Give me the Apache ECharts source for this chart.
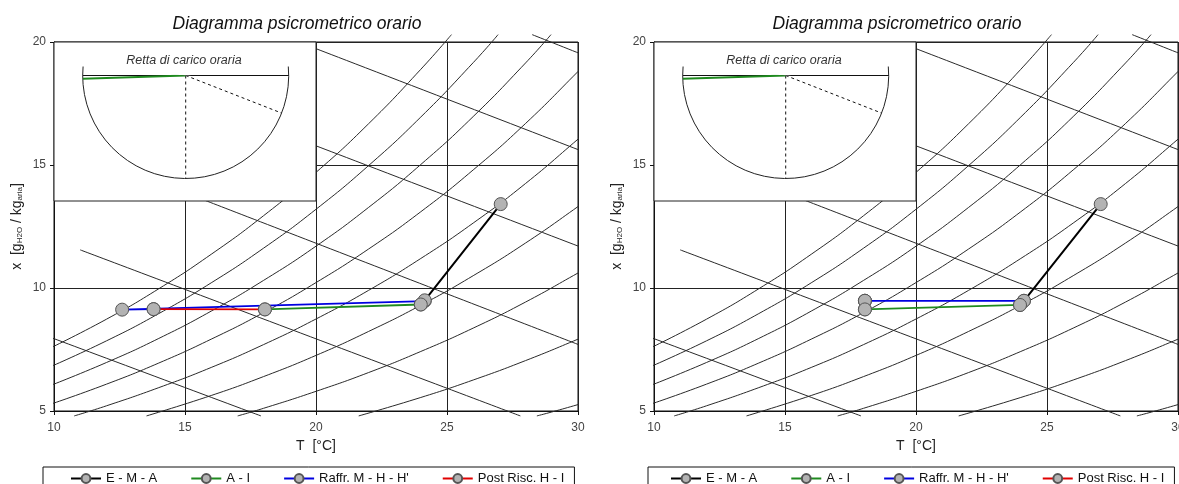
<!DOCTYPE html>
<html>
<head>
<meta charset="utf-8">
<title>Diagramma psicrometrico orario</title>
<script src="https://cdn.jsdelivr.net/npm/echarts@6/dist/echarts.min.js"></script>
<style>
  html, body { margin: 0; padding: 0; background: #fff; }
  #chart { width: 1179px; height: 484px; }
</style>
</head>
<body>
<div id="chart"></div>
<script>
const rh100 = [[9.8, 7.53], [12, 8.73], [14, 9.97], [16, 11.37], [18, 12.94], [20, 14.70], [22, 16.67], [24, 18.89], [25.17, 20.3]];
const rh90 = [[9.8, 6.77], [12, 7.85], [14, 8.96], [16, 10.21], [18, 11.62], [20, 13.20], [22, 14.97], [24, 16.95], [26, 19.16], [26.95, 20.3]];
const rh80 = [[9.8, 6.01], [12, 6.97], [14, 7.95], [16, 9.06], [18, 10.31], [20, 11.70], [22, 13.27], [24, 15.02], [26, 16.97], [28, 19.15], [28.97, 20.3]];
const rh70 = [[9.8, 5.25], [12, 6.09], [14, 6.95], [16, 7.92], [18, 9.00], [20, 10.22], [22, 11.58], [24, 13.10], [26, 14.80], [28, 16.69], [30, 18.80], [30.26, 19.10]];
const rh60 = [[10.77, 4.8], [12, 5.21], [14, 5.95], [16, 6.77], [18, 7.70], [20, 8.74], [22, 9.90], [24, 11.20], [26, 12.64], [28, 14.25], [30, 16.05], [30.26, 16.30]];
const rh50 = [[13.53, 4.8], [16, 5.63], [18, 6.40], [20, 7.26], [22, 8.23], [24, 9.30], [26, 10.50], [28, 11.83], [30, 13.31], [30.26, 13.53]];
const rh40 = [[17.01, 4.8], [18, 5.11], [20, 5.80], [22, 6.56], [24, 7.42], [26, 8.37], [28, 9.43], [30, 10.61], [30.26, 10.77]];
const rh30 = [[21.63, 4.8], [24, 5.55], [26, 6.26], [28, 7.05], [30, 7.92], [30.26, 8.05]];
const rh20 = [[28.43, 4.8], [29, 4.96], [30, 5.26], [30.26, 5.34]];

// isoentalpiche (30 ... 80 kJ/kg)
const h30 = [[9.8, 8.02], [17.9, 4.8]];
const h40 = [[11.0, 11.55], [27.8, 4.8]];
const h50 = [[15.6, 13.63], [30.26, 7.6]];
const h60 = [[19.9, 15.82], [30.26, 11.6]];
const h70 = [[19.9, 19.77], [30.26, 15.52]];
const h80 = [[28.25, 20.3], [30.26, 19.45]];

// trasformazioni - diagramma di sinistra
const leftEMA = [[27.05, 13.41], [24.15, 9.50], [24.0, 9.33]];
const leftAI = [[24.0, 9.33], [18.05, 9.13]];
const leftRaffr = [[24.15, 9.47], [12.6, 9.12], [13.8, 9.14]];
const leftPost = [[13.8, 9.14], [18.05, 9.13]];

// trasformazioni - diagramma di destra
const rightEMA = [[27.05, 13.41], [24.12, 9.48], [23.97, 9.31]];
const rightAI = [[23.97, 9.31], [18.05, 9.13]];
const rightRaffr = [[24.12, 9.48], [18.05, 9.48], [18.05, 9.48]];
const rightPost = [[18.05, 9.48], [18.05, 9.13]];

const seriesNames = ['E - M - A', 'A - I', "Raffr. M - H - H'", 'Post Risc. H - I'];
const seriesColors = ['#000000', '#1f8a1f', '#0000e0', '#e00000'];

// retta di carico: [raggio, angolo in gradi orari da destra]
const insetBase = [[1.1, 0], [1.1, 180]];
const insetVertical = [[0, 90], [1, 90]];
const insetSlope = [[0, 21.4], [1.08, 21.4]];
const insetLoad = [[1, 178.2], [0, 178.2]];

const font = 'Liberation Sans, Arial, sans-serif';
const chart = echarts.init(document.getElementById('chart'));

const rhCurves = [rh100, rh90, rh80, rh70, rh60, rh50, rh40, rh30, rh20];
const hLines = [h30, h40, h50, h60, h70, h80];
const gridLeft = [54, 654];

var series = [];
var grid = [], xAxis = [], yAxis = [], polar = [], angleAxis = [], radiusAxis = [];
var title = [], legend = [];

// griglie principali: indici 0 e 1
[0, 1].forEach(function (gi) {
  grid.push({
    left: gridLeft[gi], top: 42, width: 524, height: 369, outerBoundsMode: 'none',
    show: true, borderColor: '#111', borderWidth: 1
  });
  xAxis.push({
    type: 'value', gridIndex: gi, min: 10, max: 30, interval: 5,
    name: 'T  [°C]', nameLocation: 'middle', nameGap: 28,
    nameTextStyle: { fontSize: 14, color: '#222', fontFamily: font },
    axisLine: { lineStyle: { color: '#111', width: 1 } },
    axisTick: { length: 4, lineStyle: { color: '#111' } },
    axisLabel: { fontSize: 12, color: '#444', margin: 11, fontFamily: font },
    splitLine: { show: true, lineStyle: { color: '#222', width: 1 } }
  });
  yAxis.push({
    type: 'value', gridIndex: gi, min: 5, max: 20, interval: 5,
    name: 'x  [g{s|H2O} / kg{s|aria}]', nameLocation: 'middle', nameGap: 30,
    nameTextStyle: {
      fontSize: 14, color: '#222', fontFamily: font,
      rich: { s: { fontSize: 8, color: '#222', fontFamily: font, verticalAlign: 'bottom' } }
    },
    axisLine: { lineStyle: { color: '#111', width: 1 } },
    axisTick: { length: 4, lineStyle: { color: '#111' } },
    axisLabel: { fontSize: 12, color: '#444', margin: 8, fontFamily: font },
    splitLine: { show: true, lineStyle: { color: '#222', width: 1 } }
  });
});

// riquadri retta di carico: griglie 2 e 3 (solo sfondo bianco)
[0, 1].forEach(function (gi) {
  grid.push({
    left: gridLeft[gi], top: 42, width: 262, height: 159, outerBoundsMode: 'none',
    show: true, backgroundColor: '#fff', borderColor: '#222', borderWidth: 1, z: 5
  });
  xAxis.push({ type: 'value', gridIndex: gi + 2, min: 0, max: 1, show: false });
  yAxis.push({ type: 'value', gridIndex: gi + 2, min: 0, max: 1, show: false });
});

[0, 1].forEach(function (gi) {
  var off = gi * 600;

  // curve di fondo
  rhCurves.concat(hLines).forEach(function (pts) {
    series.push({
      type: 'line', xAxisIndex: gi, yAxisIndex: gi, data: pts,
      smooth: true, symbol: 'none', clip: false, silent: true,
      lineStyle: { color: '#2a2a2a', width: 1 }, z: 2
    });
  });

  // trasformazioni (nero per ultimo, sopra gli altri)
  var sets = gi === 0 ? [leftEMA, leftAI, leftRaffr, leftPost] : [rightEMA, rightAI, rightRaffr, rightPost];
  [1, 2, 3, 0].forEach(function (k) {
    series.push({
      name: seriesNames[k], type: 'line', xAxisIndex: gi, yAxisIndex: gi, data: sets[k],
      symbol: 'circle', symbolSize: 13, showAllSymbol: true, clip: false,
      lineStyle: { color: seriesColors[k], width: k === 0 ? 2 : 1.8 },
      itemStyle: { color: '#b3b3b3', borderColor: '#555', borderWidth: 1 },
      z: 3
    });
  });

  polar.push({ center: [185.7 + off, 75.5], radius: 103 });
  angleAxis.push({
    polarIndex: gi, type: 'value', min: -5, max: 185, startAngle: 5, endAngle: -185, clockwise: true,
    axisLine: { lineStyle: { color: '#222', width: 1 } },
    axisTick: { show: false }, axisLabel: { show: false }, splitLine: { show: false }, z: 10
  });
  radiusAxis.push({ polarIndex: gi, type: 'value', min: 0, max: 1, show: false });

  [[insetBase, '#111', 1, 'solid'], [insetVertical, '#111', 1, [3, 3]], [insetSlope, '#111', 1, [3, 3]], [insetLoad, '#1f8a1f', 2, 'solid']].forEach(function (s) {
    series.push({
      type: 'line', coordinateSystem: 'polar', polarIndex: gi, data: s[0],
      symbol: 'none', clip: false, silent: true,
      lineStyle: { color: s[1], width: s[2], type: s[3] }, z: 10
    });
  });

  title.push({
    text: 'Diagramma psicrometrico orario', left: 297 + off, top: 15, textAlign: 'center', padding: 0,
    textStyle: { fontSize: 17.5, fontStyle: 'italic', fontWeight: 'normal', color: '#111', fontFamily: font }
  });
  title.push({
    text: 'Retta di carico oraria', left: 184 + off, top: 54, textAlign: 'center', padding: 0, z: 12,
    textStyle: { fontSize: 12.5, fontStyle: 'italic', fontWeight: 'normal', color: '#333', fontFamily: font }
  });

  legend.push({
    data: seriesNames, left: gi === 0 ? 43 : 648, top: 467, padding: [5, 10, 10, gi === 0 ? 27 : 22],
    itemGap: 33, itemWidth: 30, itemHeight: 11, borderColor: '#111', borderWidth: 1,
    selectedMode: false, textStyle: { fontSize: 13, color: '#111', fontFamily: font }
  });
});

chart.setOption({
  animation: false,
  backgroundColor: '#fff',
  title: title,
  legend: legend,
  grid: grid,
  xAxis: xAxis,
  yAxis: yAxis,
  polar: polar,
  angleAxis: angleAxis,
  radiusAxis: radiusAxis,
  series: series
});
</script>
</body>
</html>
